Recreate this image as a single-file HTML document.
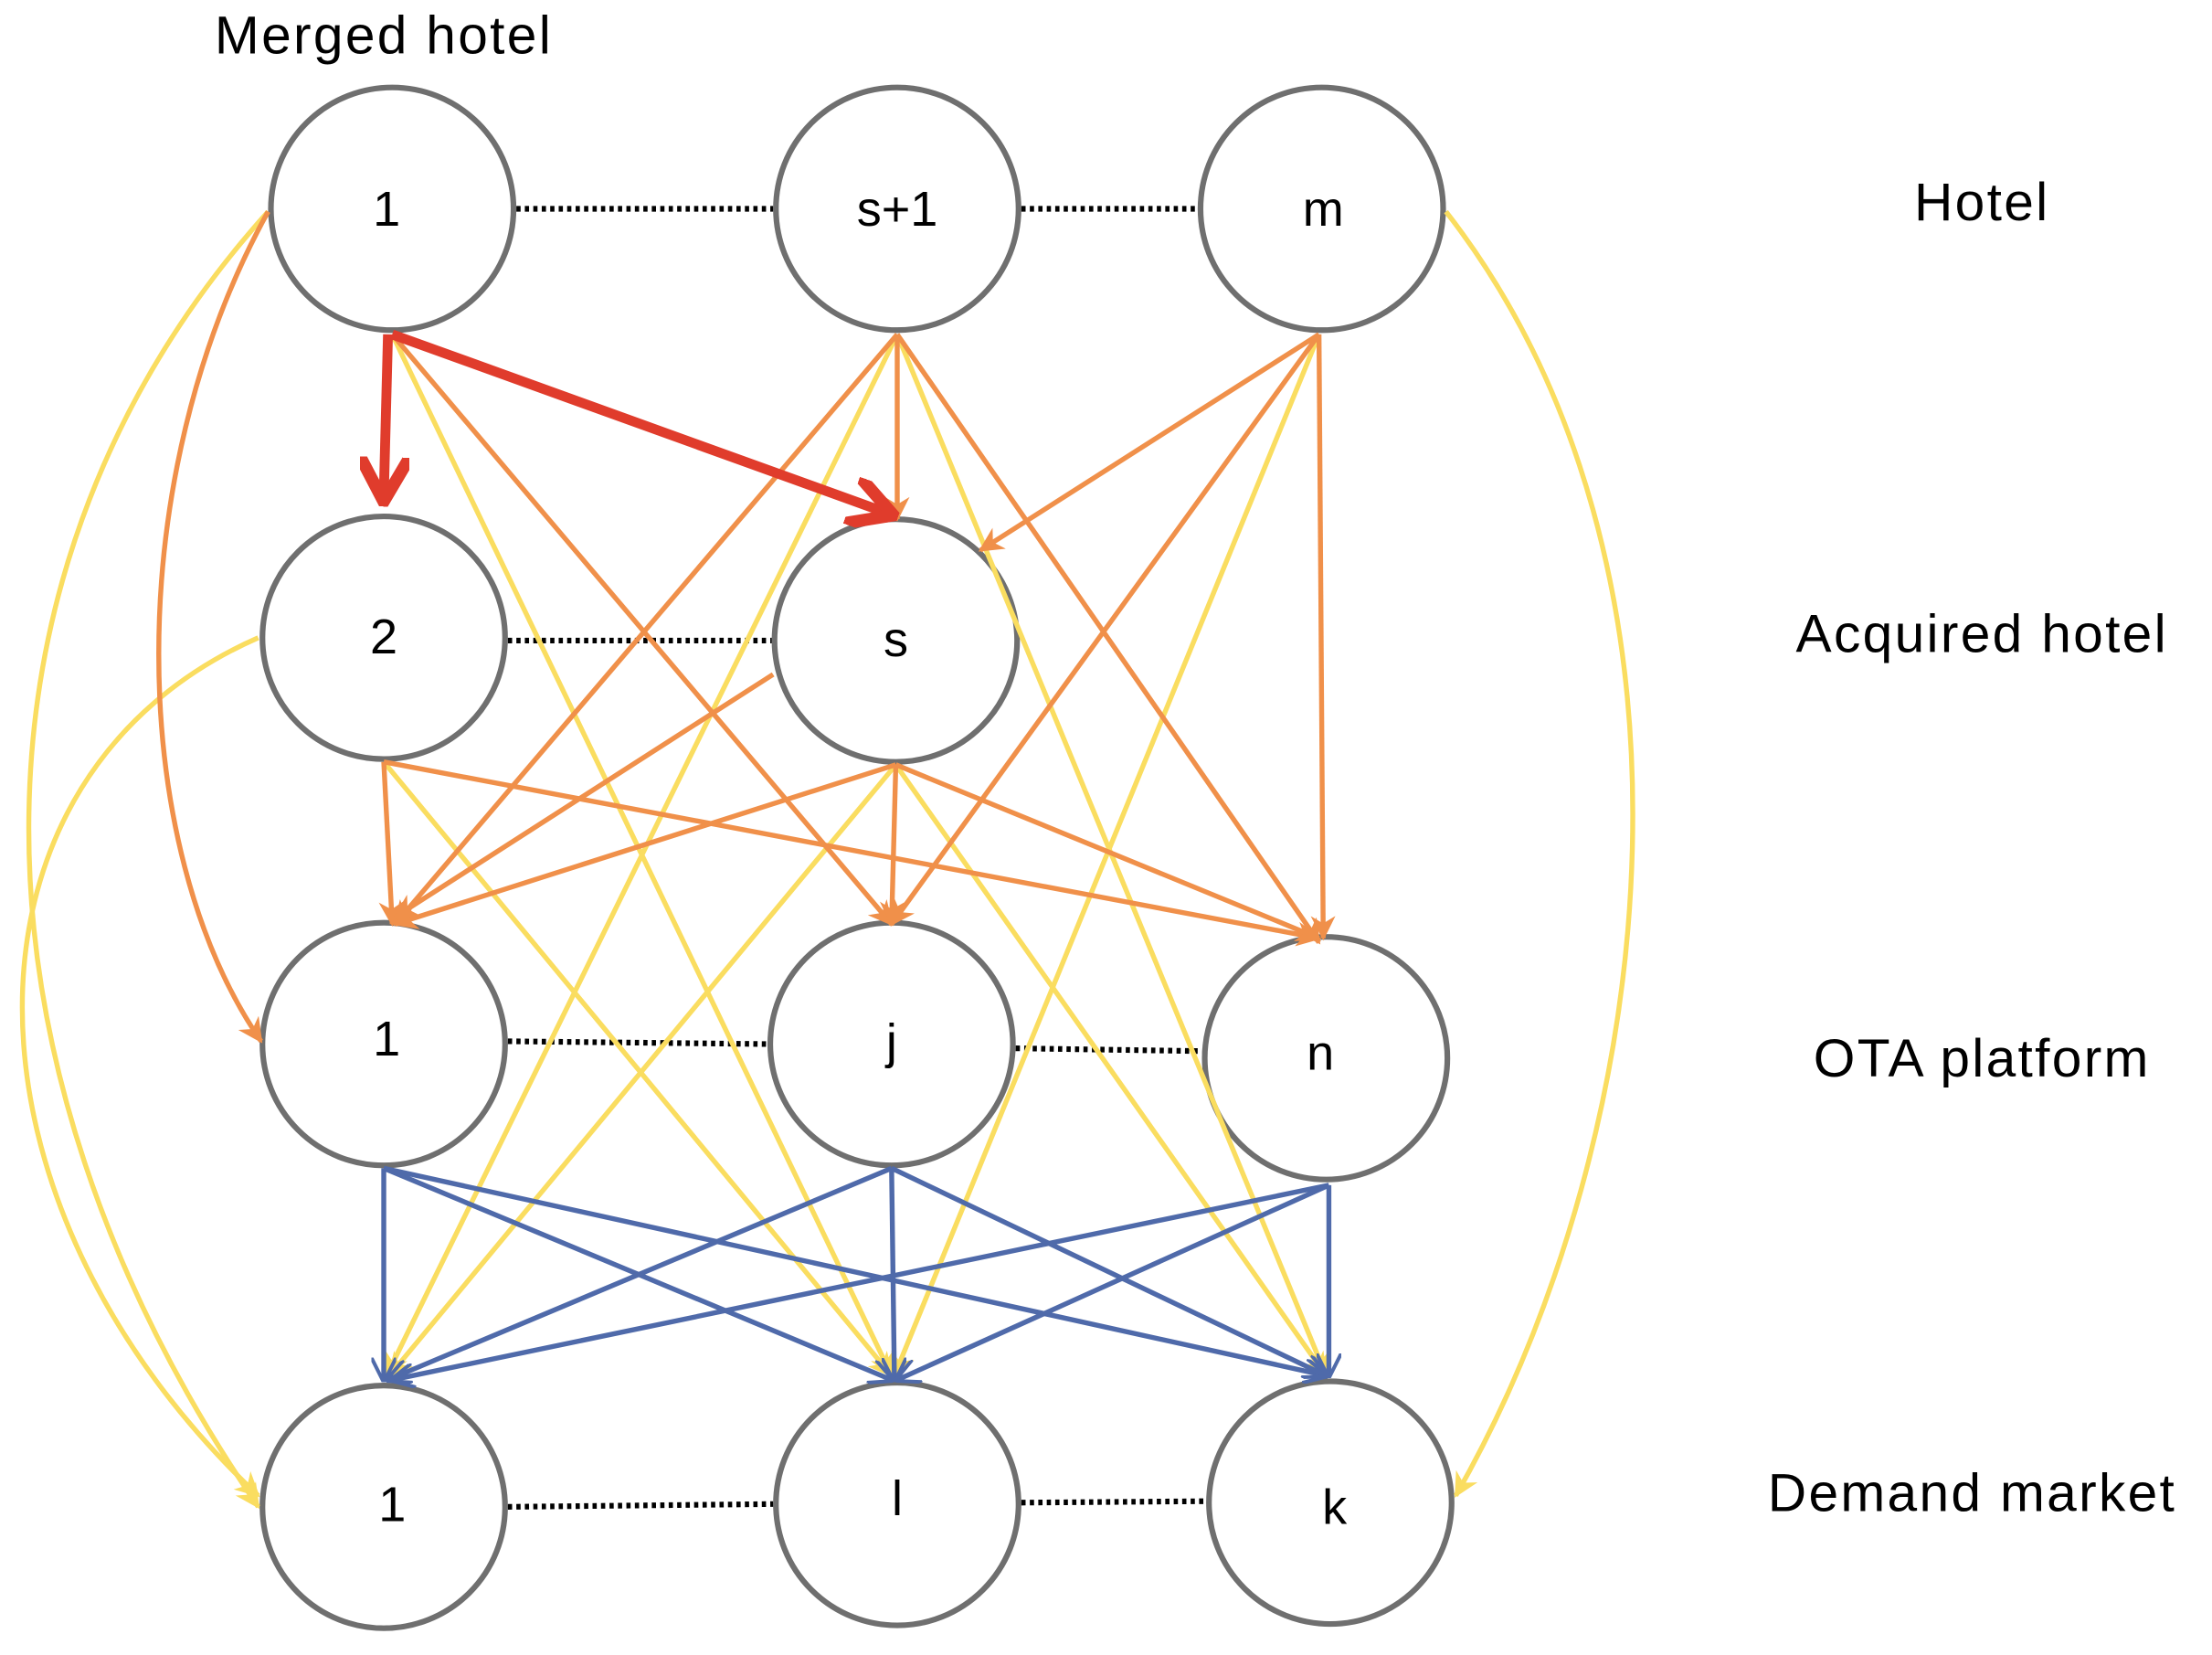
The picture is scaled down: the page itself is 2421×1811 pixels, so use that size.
<!DOCTYPE html>
<html><head><meta charset="utf-8"><style>
html,body{margin:0;padding:0;background:#fff;}
svg{display:block;}
text{font-family:"Liberation Sans",sans-serif;fill:#000;}
</style></head><body>
<svg width="2421" height="1811" viewBox="0 0 1568 1173" xmlns="http://www.w3.org/2000/svg">
<defs>
<marker id="ao" viewBox="0 0 10 10" refX="9" refY="5" markerWidth="5" markerHeight="5" orient="auto-start-reverse"><path d="M0,0 L10,5 L0,10 L3,5 z" fill="#F0904A"/></marker>
<marker id="ay" viewBox="0 0 10 10" refX="9" refY="5" markerWidth="5" markerHeight="5" orient="auto-start-reverse"><path d="M0,0 L10,5 L0,10 L3,5 z" fill="#FADD60"/></marker>
<marker id="ab" viewBox="0 0 10 10" refX="9" refY="5" markerWidth="5" markerHeight="5" orient="auto-start-reverse"><path d="M0,0 L10,5 L0,10" fill="none" stroke="#4F6AAA" stroke-width="1.5"/></marker>
<marker id="ar" viewBox="0 0 10 10" refX="8" refY="5" markerWidth="5" markerHeight="5" orient="auto-start-reverse"><path d="M0,0 L9,5 L0,10" fill="none" stroke="#E03C2C" stroke-width="2.5"/></marker>
</defs>
<g fill="#fff" stroke="#6f6f6f" stroke-width="4">
<circle cx="278" cy="148" r="86"/><circle cx="636" cy="148" r="86"/><circle cx="937" cy="148" r="86"/>
<circle cx="272" cy="452" r="86"/><circle cx="635" cy="454" r="86"/>
<circle cx="272" cy="740" r="86"/><circle cx="632" cy="740" r="86"/><circle cx="940" cy="750" r="86"/>
<circle cx="272" cy="1068" r="86"/><circle cx="636" cy="1066" r="86"/><circle cx="943" cy="1065" r="86"/>
</g>
<g stroke="#000" stroke-width="4" stroke-dasharray="3,3">
<line x1="366" y1="148" x2="548" y2="148"/><line x1="724" y1="148" x2="849" y2="148"/>
<line x1="360" y1="454" x2="547" y2="454"/>
<line x1="360" y1="738" x2="544" y2="740"/><line x1="720" y1="743" x2="852" y2="745"/>
<line x1="360" y1="1068" x2="548" y2="1066"/><line x1="724" y1="1065" x2="855" y2="1064"/>
</g>
<g fill="none" stroke="#FADD60" stroke-width="3.5" marker-end="url(#ay)">
<path d="M190,150 C-35,400 -35,750 183,1068"/>
<path d="M183,452 C-40,550 -40,850 183,1060"/>
<path d="M1025,150 C1220,400 1180,800 1032,1060"/>
<line x1="278" y1="237" x2="632" y2="975"/>
<line x1="636" y1="237" x2="274" y2="975"/>
<line x1="636" y1="237" x2="940" y2="975"/>
<line x1="935" y1="237" x2="634" y2="975"/>
<line x1="272" y1="540" x2="632" y2="975"/>
<line x1="635" y1="542" x2="276" y2="975"/>
<line x1="635" y1="542" x2="940" y2="975"/>
</g>
<g fill="none" stroke="#F0904A" stroke-width="3.5" marker-end="url(#ao)">
<path d="M190,150 C85,340 90,600 185,738"/>
<line x1="278" y1="237" x2="632" y2="655"/>
<line x1="636" y1="237" x2="280" y2="655"/>
<line x1="636" y1="237" x2="636" y2="368"/>
<line x1="636" y1="237" x2="935" y2="668"/>
<line x1="935" y1="237" x2="695" y2="390"/>
<line x1="935" y1="237" x2="632" y2="655"/>
<line x1="935" y1="237" x2="938" y2="665"/>
<line x1="272" y1="540" x2="278" y2="655"/>
<line x1="272" y1="540" x2="935" y2="665"/>
<line x1="635" y1="542" x2="280" y2="655"/>
<line x1="635" y1="542" x2="632" y2="655"/>
<line x1="635" y1="542" x2="935" y2="665"/>
<line x1="548" y1="478" x2="280" y2="650"/>
</g>
<g fill="none" stroke="#4F6AAA" stroke-width="3.5" marker-end="url(#ab)">
<line x1="272" y1="828" x2="272" y2="978"/><line x1="272" y1="828" x2="632" y2="978"/><line x1="272" y1="828" x2="940" y2="975"/>
<line x1="632" y1="828" x2="275" y2="978"/><line x1="632" y1="828" x2="634" y2="978"/><line x1="632" y1="828" x2="940" y2="975"/>
<line x1="942" y1="840" x2="278" y2="978"/><line x1="942" y1="840" x2="636" y2="978"/><line x1="942" y1="840" x2="942" y2="975"/>
</g>
<g stroke="#E03C2C" stroke-width="7" fill="none" marker-end="url(#ar)">
<line x1="275" y1="237" x2="272" y2="352"/>
<line x1="278" y1="237" x2="630" y2="364"/>
</g>
<g font-size="35" text-anchor="middle">
<text x="274" y="160">1</text><text x="636" y="160">s+1</text><text x="938" y="160">m</text>
<text x="272" y="463">2</text><text x="635" y="465">s</text>
<text x="274" y="748">1</text><text x="632" y="750">j</text><text x="936" y="758">n</text>
<text x="278" y="1078">1</text><text x="636" y="1074">l</text><text x="946" y="1080">k</text>
</g>
<g font-size="38" text-anchor="middle" letter-spacing="1.5">
<text x="272" y="38">Merged  hotel</text>
<text x="1405" y="156">Hotel</text>
<text x="1405" y="462">Acquired  hotel</text>
<text x="1405" y="763">OTA platform</text>
<text x="1398" y="1071">Demand market</text>
</g>
</svg>
</body></html>
